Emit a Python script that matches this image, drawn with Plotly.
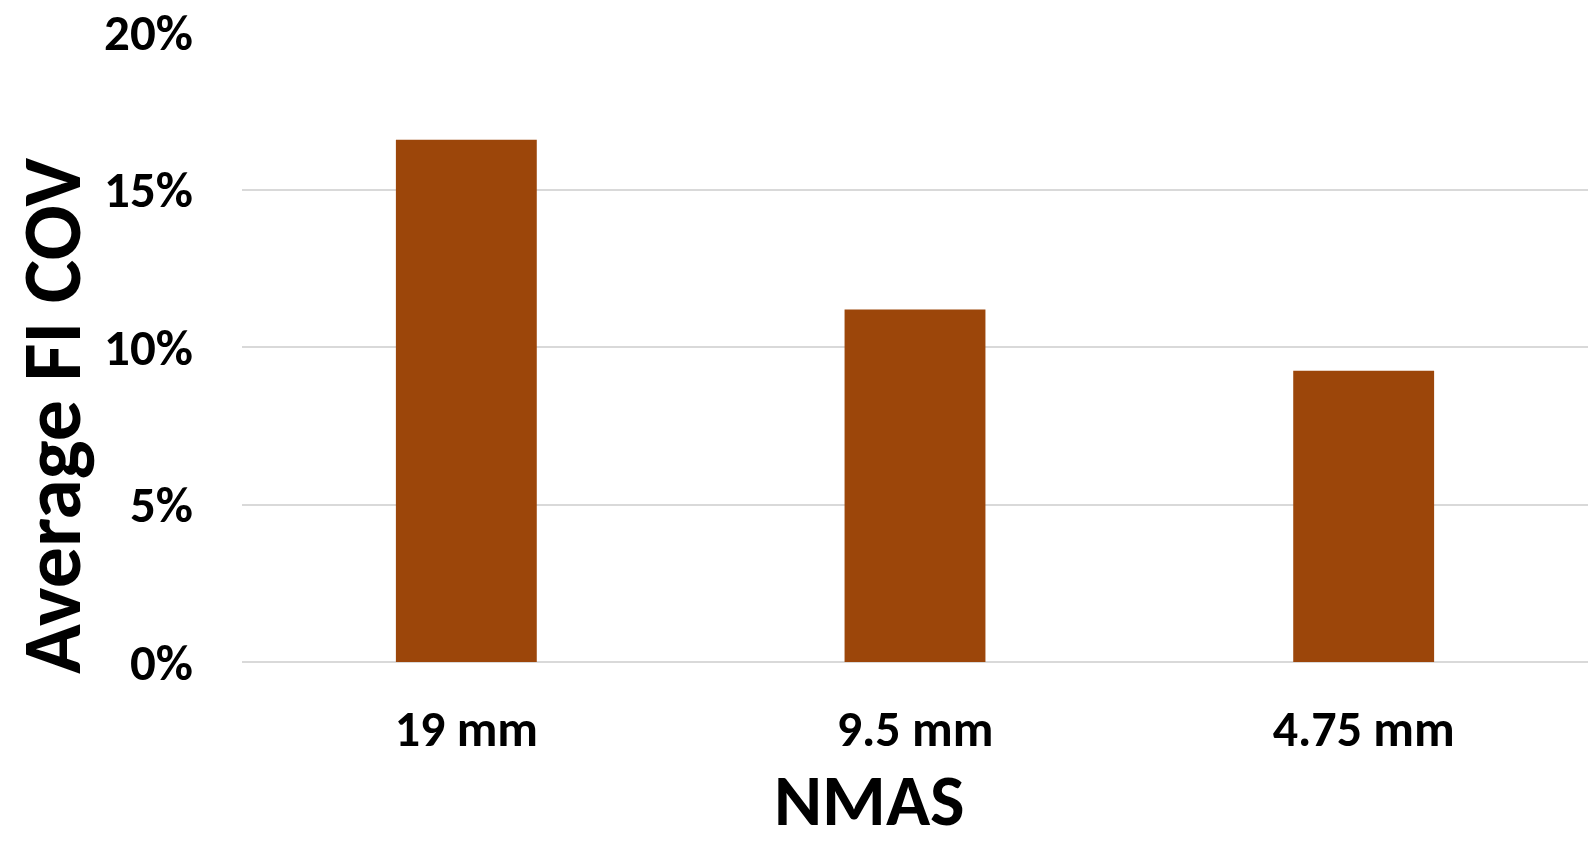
import plotly.graph_objects as go

categories = ["19 mm", "9.5 mm", "4.75 mm"]
values = [0.1658, 0.1119, 0.0925]
y_ticks = [0, 0.05, 0.10, 0.15, 0.20]
y_tick_labels = ["0%", "5%", "10%", "15%", "20%"]

FONT = "Carlito, Lato, 'Open Sans', sans-serif"

fig = go.Figure(go.Bar(x=categories, y=values, marker=dict(color="#9C460A", line=dict(width=0)),
                       width=0.314))

W, H = 1592, 847
L, R, T, B = 241.6, 4, 31.5, 184.7
PH = H - T - B
PW = W - L - R

fig.update_layout(
    width=W, height=H,
    margin=dict(l=L, r=R, t=T, b=B, pad=0),
    plot_bgcolor="white", paper_bgcolor="white",
    showlegend=False,
    font=dict(family=FONT, color="black"),
    xaxis=dict(showgrid=False, showline=False, zeroline=False, ticks="",
               tickfont=dict(family=FONT, size=50, color="black", weight="bold"),
               ticklabelstandoff=33, automargin=False),
    yaxis=dict(range=[0, 0.2], tickvals=y_ticks, ticktext=y_tick_labels,
               showgrid=True, gridcolor="#D9D9D9", gridwidth=1.5,
               zeroline=True, zerolinecolor="#D9D9D9", zerolinewidth=1.5,
               showline=False, ticks="",
               tickfont=dict(family=FONT, size=51, color="black", weight="bold"),
               ticklabelstandoff=48, automargin=False),
    annotations=[
        dict(text="<b>NMAS</b>", xref="paper", yref="paper", x=0.4663, y=-(B - 0.2) / PH,
             xanchor="center", yanchor="bottom", showarrow=False, borderpad=0,
             font=dict(family=FONT, size=73, color="black")),
        dict(text="<b>Average FI COV</b>", xref="paper", yref="paper",
             x=-(L - 0.5) / PW, y=(H - B - 415) / PH, textangle=-90,
             xanchor="left", yanchor="middle", showarrow=False, borderpad=0,
             font=dict(family=FONT, size=82, color="black")),
    ],
)

fig.write_html("out.html")
